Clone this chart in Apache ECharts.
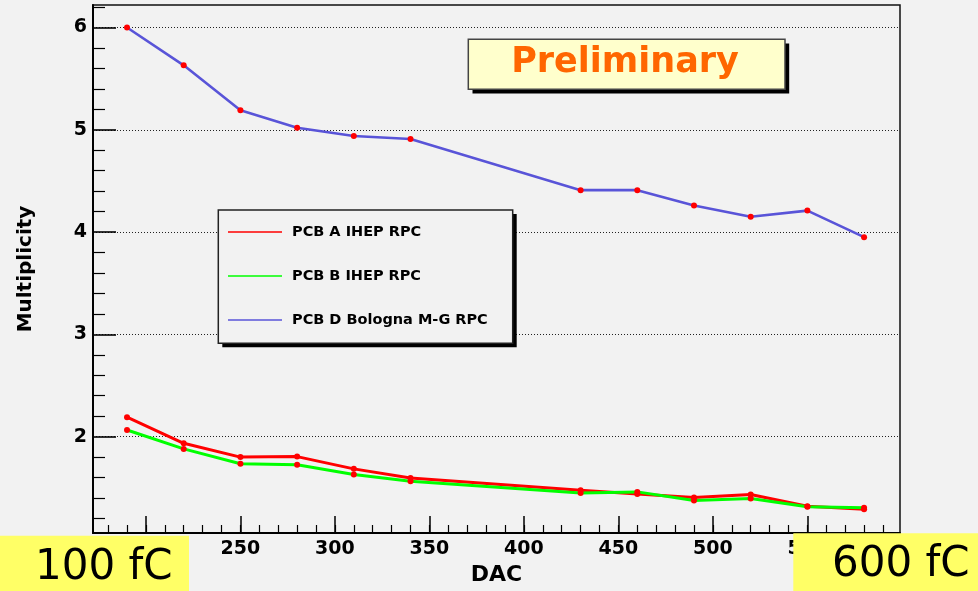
<!DOCTYPE html>
<html>
<head>
<meta charset="utf-8">
<script src="https://cdn.jsdelivr.net/npm/echarts@6/dist/echarts.min.js"></script>
<style>
  html, body { margin: 0; padding: 0; background: #f2f2f2; }
  #chart { width: 978px; height: 591px; }
</style>
</head>
<body>
<div id="chart"></div>
<script>
// ---- data ----
const dac = [190, 220, 250, 280, 310, 340, 430, 460, 490, 520, 550, 580];
const pcbA = [2.19, 1.935, 1.80, 1.805, 1.685, 1.595, 1.475, 1.44, 1.405, 1.435, 1.32, 1.29];
const pcbB = [2.065, 1.88, 1.735, 1.725, 1.63, 1.565, 1.45, 1.46, 1.375, 1.395, 1.315, 1.305];
const pcbD = [6.00, 5.63, 5.19, 5.02, 4.94, 4.91, 4.41, 4.41, 4.26, 4.15, 4.21, 3.95];
const seriesNames = ['PCB A IHEP RPC', 'PCB B IHEP RPC', 'PCB D Bologna M-G RPC'];
const seriesColors = ['#ff0000', '#00ff00', '#5954d8'];

const xMajorTicks = [200, 250, 300, 350, 400, 450, 500, 550];
const xMinorTicks = [180, 190, 200, 210, 220, 230, 240, 250, 260, 270, 280, 290, 300, 310, 320, 330, 340, 350,
  360, 370, 380, 390, 400, 410, 420, 430, 440, 450, 460, 470, 480, 490, 500, 510, 520, 530, 540, 550, 560, 570, 580, 590];
const yMajorTicks = [2, 3, 4, 5, 6];
const yMinorTicks = [1.2, 1.4, 1.6, 1.8, 2.2, 2.4, 2.6, 2.8, 3.2, 3.4, 3.6, 3.8, 4.2, 4.4, 4.6, 4.8,
  5.2, 5.4, 5.6, 5.8, 6.2];

const xMin = 172, xMax = 599;
const yMin = 1.058, yMax = 6.22;

const FONT = 'DejaVu Sans';

const chart = echarts.init(document.getElementById('chart'), null, { renderer: 'canvas' });

function mkSeries(idx, vals) {
  return {
    name: seriesNames[idx],
    type: 'line',
    xAxisIndex: 0,
    yAxisIndex: 0,
    data: dac.map((x, i) => [x, vals[i]]),
    symbol: 'circle',
    symbolSize: 6,
    showSymbol: true,
    itemStyle: { color: '#ff0000' },
    lineStyle: { color: seriesColors[idx], width: idx === 2 ? 2.6 : 3 },
    emphasis: { disabled: true },
    animation: false,
    z: 3
  };
}

const option = {
  backgroundColor: '#f2f2f2',
  animation: false,
  grid: {
    left: 93, right: 78, top: 5, bottom: 56,
    show: true, borderColor: '#111', borderWidth: 1.5, backgroundColor: 'transparent'
  },
  xAxis: [
    {
      type: 'value', min: xMin, max: xMax, position: 'bottom',
      name: 'DAC', nameLocation: 'middle', nameGap: 31,
      nameTextStyle: { fontFamily: FONT, fontWeight: 'bold', fontSize: 22, color: '#000' },
      axisLine: { show: true, lineStyle: { color: '#000', width: 2 } },
      axisTick: { show: true, inside: true, length: 17, customValues: xMajorTicks, lineStyle: { color: '#000', width: 1.5 } },
      axisLabel: { show: true, customValues: xMajorTicks, margin: 7, fontFamily: FONT, fontWeight: 'bold', fontSize: 19, color: '#000' },
      splitLine: { show: false }
    },
    {
      type: 'value', min: xMin, max: xMax, position: 'bottom',
      axisLine: { show: false },
      axisTick: { show: true, inside: true, length: 8, customValues: xMinorTicks, lineStyle: { color: '#000', width: 1.2 } },
      axisLabel: { show: false },
      splitLine: { show: false }
    }
  ],
  yAxis: [
    {
      type: 'value', min: yMin, max: yMax, position: 'left',
      name: 'Multiplicity', nameLocation: 'middle', nameGap: 57, nameRotate: 90,
      nameTextStyle: { fontFamily: FONT, fontWeight: 'bold', fontSize: 20, color: '#000' },
      axisLine: { show: true, lineStyle: { color: '#000', width: 2 } },
      axisTick: { show: true, inside: true, length: 23, customValues: yMajorTicks, lineStyle: { color: '#000', width: 1.6 } },
      axisLabel: { show: true, customValues: yMajorTicks, margin: 6, fontFamily: FONT, fontWeight: 'bold', fontSize: 19, color: '#000' },
      splitLine: { show: true, lineStyle: { color: '#222', width: 1, type: [1, 2] } }
    },
    {
      type: 'value', min: yMin, max: yMax, position: 'left',
      axisLine: { show: false },
      axisTick: { show: true, inside: true, length: 12, customValues: yMinorTicks, lineStyle: { color: '#000', width: 1.2 } },
      axisLabel: { show: false },
      splitLine: { show: false }
    }
  ],
  legend: {
    show: true,
    orient: 'vertical',
    left: 218, top: 210,
    padding: [12, 20, 14, 10],
    itemWidth: 54, itemHeight: 1.5,
    itemGap: 24,
    icon: 'rect',
    selectedMode: false,
    z: 20,
    data: seriesNames.map((n, i) => ({ name: n, icon: 'rect', itemStyle: { color: seriesColors[i] } })),
    textStyle: { fontFamily: FONT, fontWeight: 'bold', fontSize: 14.5, lineHeight: 20, color: '#000', padding: [0, 0, 0, 5] }
  },
  graphic: [
    // legend box + shadow
    { type: 'rect', z: 10, shape: { x: 222.3, y: 214, width: 294.4, height: 133.3 }, style: { fill: '#000' } },
    { type: 'rect', z: 11, shape: { x: 218.3, y: 210, width: 294.4, height: 133.3 }, style: { fill: '#f2f2f2', stroke: '#222', lineWidth: 1.5 } },
    // Preliminary box
    { type: 'rect', z: 10, shape: { x: 472.5, y: 43.5, width: 316.7, height: 50 }, style: { fill: '#000' } },
    { type: 'rect', z: 11, shape: { x: 468.3, y: 39.3, width: 316.7, height: 50 }, style: { fill: '#ffffcc', stroke: '#444', lineWidth: 1.5 } },
    { type: 'text', z: 12, style: { x: 625, y: 63, text: 'Preliminary', align: 'center', verticalAlign: 'middle',
        font: 'bold 35px "DejaVu Sans"', fill: '#ff6600' } },
    // bottom yellow labels
    { type: 'rect', z: 50, shape: { x: 0, y: 535.7, width: 189, height: 56 }, style: { fill: '#ffff66' } },
    { type: 'text', z: 51, style: { x: 35, y: 568, text: '100 fC', align: 'left', verticalAlign: 'middle',
        font: '42px "DejaVu Sans"', fill: '#000' } },
    { type: 'rect', z: 50, shape: { x: 793.3, y: 533.3, width: 185, height: 58 }, style: { fill: '#ffff66' } },
    { type: 'text', z: 51, style: { x: 832, y: 565, text: '600 fC', align: 'left', verticalAlign: 'middle',
        font: '42px "DejaVu Sans"', fill: '#000' } }
  ],
  series: [mkSeries(0, pcbA), mkSeries(1, pcbB), mkSeries(2, pcbD)]
};

chart.setOption(option);
</script>
</body>
</html>
